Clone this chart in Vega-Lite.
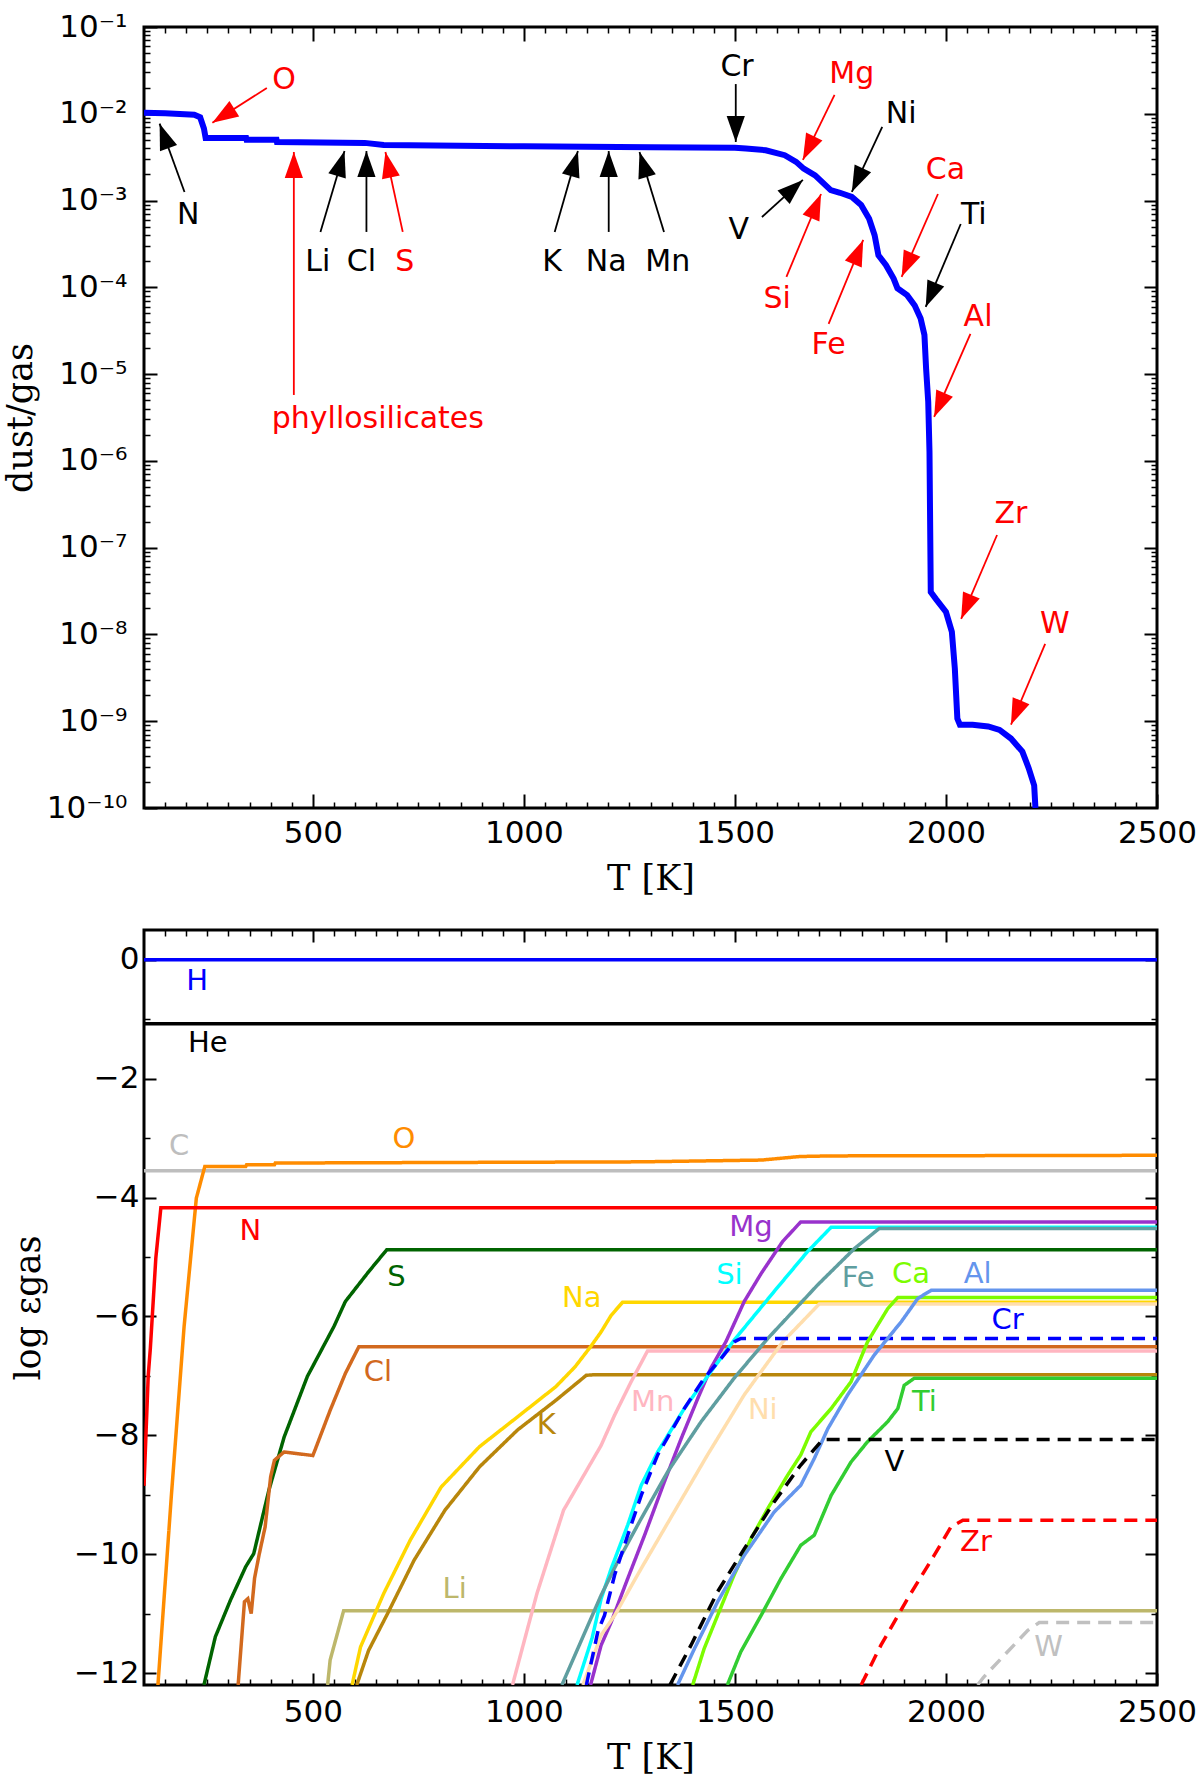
{
  "$schema": "https://vega.github.io/schema/vega-lite/v6.json",
  "background": "white",
  "padding": {"left": 1, "top": 9, "right": 0, "bottom": 0},
  "config": {
    "font": "DejaVu Sans",
    "view": {"stroke": "black", "strokeWidth": 3},
    "axis": {
      "domain": false,
      "grid": false,
      "tickColor": "black",
      "labelColor": "black",
      "labelFont": "DejaVu Sans",
      "labelFontSize": 31,
      "labelOverlap": false,
      "titleFont": "DejaVu Serif",
      "titleFontSize": 35,
      "titleFontWeight": "normal",
      "titleColor": "black"
    }
  },
  "spacing": 122,
  "bounds": "flush",
  "resolve": {"scale": {"color": "independent", "x": "independent", "y": "independent"}},
  "datasets": {
    "dust": [
      {"T": 100, "v": 1.030e-2}, {"T": 150, "v": 1.012e-2}, {"T": 219, "v": 9.77e-3},
      {"T": 233, "v": 9.12e-3}, {"T": 242, "v": 6.76e-3}, {"T": 246, "v": 5.25e-3},
      {"T": 342, "v": 5.25e-3}, {"T": 343, "v": 5.01e-3}, {"T": 414, "v": 5.01e-3},
      {"T": 415, "v": 4.73e-3}, {"T": 623, "v": 4.62e-3}, {"T": 668, "v": 4.37e-3},
      {"T": 1000, "v": 4.22e-3}, {"T": 1300, "v": 4.12e-3}, {"T": 1500, "v": 4.07e-3},
      {"T": 1526, "v": 3.98e-3}, {"T": 1573, "v": 3.80e-3}, {"T": 1618, "v": 3.33e-3},
      {"T": 1645, "v": 2.79e-3}, {"T": 1663, "v": 2.33e-3}, {"T": 1690, "v": 1.95e-3},
      {"T": 1727, "v": 1.32e-3}, {"T": 1749, "v": 1.23e-3}, {"T": 1777, "v": 1.10e-3},
      {"T": 1799, "v": 8.91e-4}, {"T": 1818, "v": 6.17e-4}, {"T": 1831, "v": 3.98e-4},
      {"T": 1840, "v": 2.34e-4}, {"T": 1858, "v": 1.80e-4}, {"T": 1876, "v": 1.26e-4},
      {"T": 1885, "v": 9.77e-5}, {"T": 1908, "v": 8.13e-5}, {"T": 1926, "v": 6.17e-5},
      {"T": 1940, "v": 4.37e-5}, {"T": 1949, "v": 2.82e-5}, {"T": 1953, "v": 1.15e-5},
      {"T": 1958, "v": 4.79e-6}, {"T": 1961, "v": 1.26e-6}, {"T": 1964, "v": 3.09e-8},
      {"T": 1976, "v": 2.57e-8}, {"T": 2000, "v": 1.82e-8}, {"T": 2014, "v": 1.07e-8},
      {"T": 2021, "v": 4.07e-9}, {"T": 2027, "v": 1.07e-9}, {"T": 2033, "v": 9.12e-10},
      {"T": 2063, "v": 9.12e-10}, {"T": 2100, "v": 8.71e-10}, {"T": 2127, "v": 7.94e-10},
      {"T": 2154, "v": 6.31e-10}, {"T": 2181, "v": 4.47e-10}, {"T": 2196, "v": 2.88e-10},
      {"T": 2209, "v": 1.82e-10}, {"T": 2212, "v": 1.0e-10}
    ],
    "arrows": [
      {"el": "N", "kind": "other", "tT": 196, "tv": 1.256e-3, "hT": 137, "hv": 7.69e-3},
      {"el": "O", "kind": "main", "tT": 391, "tv": 1.98e-2, "hT": 262, "hv": 7.89e-3},
      {"el": "phyllosilicates", "kind": "main", "tT": 455, "tv": 5.75e-6, "hT": 455, "hv": 3.63e-3},
      {"el": "Li", "kind": "other", "tT": 518, "tv": 4.35e-4, "hT": 575, "hv": 3.72e-3},
      {"el": "Cl", "kind": "other", "tT": 627, "tv": 4.35e-4, "hT": 627, "hv": 3.72e-3},
      {"el": "S", "kind": "main", "tT": 713, "tv": 4.35e-4, "hT": 672, "hv": 3.63e-3},
      {"el": "K", "kind": "other", "tT": 1073, "tv": 4.35e-4, "hT": 1128, "hv": 3.72e-3},
      {"el": "Na", "kind": "other", "tT": 1201, "tv": 4.35e-4, "hT": 1201, "hv": 3.72e-3},
      {"el": "Mn", "kind": "other", "tT": 1332, "tv": 4.35e-4, "hT": 1274, "hv": 3.63e-3},
      {"el": "Cr", "kind": "other", "tT": 1502, "tv": 2.20e-2, "hT": 1502, "hv": 4.73e-3},
      {"el": "Mg", "kind": "main", "tT": 1736, "tv": 1.65e-2, "hT": 1661, "hv": 2.94e-3},
      {"el": "Ni", "kind": "other", "tT": 1849, "tv": 7.05e-3, "hT": 1777, "hv": 1.256e-3},
      {"el": "V", "kind": "other", "tT": 1564, "tv": 6.47e-4, "hT": 1661, "hv": 1.73e-3},
      {"el": "Si", "kind": "main", "tT": 1622, "tv": 1.32e-4, "hT": 1704, "hv": 1.19e-3},
      {"el": "Fe", "kind": "main", "tT": 1722, "tv": 3.80e-5, "hT": 1804, "hv": 3.52e-4},
      {"el": "Ca", "kind": "main", "tT": 1981, "tv": 1.19e-3, "hT": 1895, "hv": 1.32e-4},
      {"el": "Ti", "kind": "other", "tT": 2035, "tv": 5.37e-4, "hT": 1952, "hv": 5.94e-5},
      {"el": "Al", "kind": "main", "tT": 2058, "tv": 2.90e-5, "hT": 1972, "hv": 3.21e-6},
      {"el": "Zr", "kind": "main", "tT": 2121, "tv": 1.40e-7, "hT": 2036, "hv": 1.51e-8},
      {"el": "W", "kind": "main", "tT": 2235, "tv": 7.80e-9, "hT": 2154, "hv": 9.12e-10}
    ],
    "tags": [
      {"label": "N", "kind": "other", "T": 205, "v": 6.82e-4},
      {"label": "O", "kind": "main", "T": 432, "v": 2.45e-2},
      {"label": "phyllosilicates", "kind": "main", "T": 654, "v": 3.05e-6},
      {"label": "Li", "kind": "other", "T": 512, "v": 1.96e-4},
      {"label": "Cl", "kind": "other", "T": 615, "v": 1.96e-4},
      {"label": "S", "kind": "main", "T": 718, "v": 1.96e-4},
      {"label": "K", "kind": "other", "T": 1067, "v": 1.96e-4},
      {"label": "Na", "kind": "other", "T": 1195, "v": 1.96e-4},
      {"label": "Mn", "kind": "other", "T": 1341, "v": 1.96e-4},
      {"label": "Cr", "kind": "other", "T": 1505, "v": 3.46e-2},
      {"label": "Mg", "kind": "main", "T": 1777, "v": 2.88e-2},
      {"label": "Ni", "kind": "other", "T": 1894, "v": 9.95e-3},
      {"label": "V", "kind": "other", "T": 1509, "v": 4.58e-4},
      {"label": "Si", "kind": "main", "T": 1600, "v": 7.35e-5},
      {"label": "Fe", "kind": "main", "T": 1722, "v": 2.17e-5},
      {"label": "Ca", "kind": "main", "T": 1999, "v": 2.25e-3},
      {"label": "Ti", "kind": "other", "T": 2066, "v": 6.82e-4},
      {"label": "Al", "kind": "main", "T": 2076, "v": 4.56e-5},
      {"label": "Zr", "kind": "main", "T": 2154, "v": 2.45e-7},
      {"label": "W", "kind": "main", "T": 2258, "v": 1.32e-8}
    ],
    "gas": [
      {"el": "H", "T": 100, "v": 0}, {"el": "H", "T": 2500, "v": 0},
      {"el": "He", "T": 100, "v": -1.075}, {"el": "He", "T": 2500, "v": -1.075},
      {"el": "C", "T": 100, "v": -3.55}, {"el": "C", "T": 2500, "v": -3.55},
      {"el": "O", "T": 133, "v": -12.2}, {"el": "O", "T": 165, "v": -9.0}, {"el": "O", "T": 195, "v": -6.17},
      {"el": "O", "T": 224, "v": -4.01}, {"el": "O", "T": 244, "v": -3.48}, {"el": "O", "T": 341, "v": -3.48},
      {"el": "O", "T": 343, "v": -3.45}, {"el": "O", "T": 409, "v": -3.45}, {"el": "O", "T": 411, "v": -3.42},
      {"el": "O", "T": 1273, "v": -3.40}, {"el": "O", "T": 1563, "v": -3.37}, {"el": "O", "T": 1654, "v": -3.31},
      {"el": "O", "T": 1727, "v": -3.30}, {"el": "O", "T": 2500, "v": -3.29},
      {"el": "N", "T": 100, "v": -8.85}, {"el": "N", "T": 110, "v": -7.0}, {"el": "N", "T": 115, "v": -6.54},
      {"el": "N", "T": 128, "v": -5.02}, {"el": "N", "T": 140, "v": -4.17}, {"el": "N", "T": 2500, "v": -4.17},
      {"el": "S", "T": 242, "v": -12.2}, {"el": "S", "T": 269, "v": -11.39}, {"el": "S", "T": 305, "v": -10.77},
      {"el": "S", "T": 341, "v": -10.21}, {"el": "S", "T": 360, "v": -9.99}, {"el": "S", "T": 396, "v": -8.92},
      {"el": "S", "T": 432, "v": -8.03}, {"el": "S", "T": 487, "v": -7.01}, {"el": "S", "T": 550, "v": -6.17},
      {"el": "S", "T": 577, "v": -5.75}, {"el": "S", "T": 632, "v": -5.25}, {"el": "S", "T": 675, "v": -4.88},
      {"el": "S", "T": 2500, "v": -4.88},
      {"el": "Cl", "T": 323, "v": -12.2}, {"el": "Cl", "T": 338, "v": -10.8}, {"el": "Cl", "T": 346, "v": -10.75},
      {"el": "Cl", "T": 354, "v": -11.0}, {"el": "Cl", "T": 362, "v": -10.4}, {"el": "Cl", "T": 373, "v": -10.0},
      {"el": "Cl", "T": 387, "v": -9.54}, {"el": "Cl", "T": 400, "v": -8.70}, {"el": "Cl", "T": 409, "v": -8.42},
      {"el": "Cl", "T": 432, "v": -8.28}, {"el": "Cl", "T": 500, "v": -8.34}, {"el": "Cl", "T": 505, "v": -8.25},
      {"el": "Cl", "T": 541, "v": -7.58}, {"el": "Cl", "T": 577, "v": -6.96}, {"el": "Cl", "T": 609, "v": -6.51},
      {"el": "Cl", "T": 2500, "v": -6.51},
      {"el": "Li", "T": 535, "v": -12.2}, {"el": "Li", "T": 541, "v": -11.78}, {"el": "Li", "T": 573, "v": -10.95},
      {"el": "Li", "T": 2500, "v": -10.95},
      {"el": "Na", "T": 593, "v": -12.2}, {"el": "Na", "T": 613, "v": -11.56}, {"el": "Na", "T": 668, "v": -10.66},
      {"el": "Na", "T": 731, "v": -9.76}, {"el": "Na", "T": 804, "v": -8.87}, {"el": "Na", "T": 895, "v": -8.19},
      {"el": "Na", "T": 985, "v": -7.69}, {"el": "Na", "T": 1076, "v": -7.18}, {"el": "Na", "T": 1121, "v": -6.85},
      {"el": "Na", "T": 1158, "v": -6.51}, {"el": "Na", "T": 1183, "v": -6.26}, {"el": "Na", "T": 1207, "v": -5.98},
      {"el": "Na", "T": 1234, "v": -5.76}, {"el": "Na", "T": 2500, "v": -5.76},
      {"el": "K", "T": 604, "v": -12.2}, {"el": "K", "T": 632, "v": -11.62}, {"el": "K", "T": 677, "v": -11.0},
      {"el": "K", "T": 740, "v": -10.1}, {"el": "K", "T": 813, "v": -9.26}, {"el": "K", "T": 895, "v": -8.53},
      {"el": "K", "T": 985, "v": -7.91}, {"el": "K", "T": 1076, "v": -7.41}, {"el": "K", "T": 1148, "v": -6.99},
      {"el": "K", "T": 1170, "v": -6.98}, {"el": "K", "T": 2500, "v": -6.98},
      {"el": "Mn", "T": 973, "v": -12.2}, {"el": "Mn", "T": 1031, "v": -10.66}, {"el": "Mn", "T": 1094, "v": -9.26},
      {"el": "Mn", "T": 1183, "v": -8.17}, {"el": "Mn", "T": 1215, "v": -7.66}, {"el": "Mn", "T": 1254, "v": -7.10},
      {"el": "Mn", "T": 1293, "v": -6.58}, {"el": "Mn", "T": 2500, "v": -6.58},
      {"el": "Mg", "T": 1158, "v": -12.2}, {"el": "Mg", "T": 1183, "v": -11.53}, {"el": "Mg", "T": 1207, "v": -11.14},
      {"el": "Mg", "T": 1246, "v": -10.41}, {"el": "Mg", "T": 1286, "v": -9.68}, {"el": "Mg", "T": 1333, "v": -8.78},
      {"el": "Mg", "T": 1373, "v": -8.05}, {"el": "Mg", "T": 1412, "v": -7.38}, {"el": "Mg", "T": 1443, "v": -6.87},
      {"el": "Mg", "T": 1479, "v": -6.42}, {"el": "Mg", "T": 1522, "v": -5.75}, {"el": "Mg", "T": 1562, "v": -5.28},
      {"el": "Mg", "T": 1613, "v": -4.74}, {"el": "Mg", "T": 1656, "v": -4.41}, {"el": "Mg", "T": 2500, "v": -4.41},
      {"el": "Si", "T": 1126, "v": -12.2}, {"el": "Si", "T": 1162, "v": -11.4}, {"el": "Si", "T": 1183, "v": -10.75},
      {"el": "Si", "T": 1207, "v": -10.24}, {"el": "Si", "T": 1246, "v": -9.51}, {"el": "Si", "T": 1278, "v": -8.84},
      {"el": "Si", "T": 1317, "v": -8.28}, {"el": "Si", "T": 1380, "v": -7.55}, {"el": "Si", "T": 1443, "v": -6.93},
      {"el": "Si", "T": 1498, "v": -6.40}, {"el": "Si", "T": 1593, "v": -5.58}, {"el": "Si", "T": 1672, "v": -4.91},
      {"el": "Si", "T": 1728, "v": -4.50}, {"el": "Si", "T": 2500, "v": -4.50},
      {"el": "Fe", "T": 1090, "v": -12.2}, {"el": "Fe", "T": 1183, "v": -10.69}, {"el": "Fe", "T": 1222, "v": -10.13},
      {"el": "Fe", "T": 1278, "v": -9.40}, {"el": "Fe", "T": 1341, "v": -8.61}, {"el": "Fe", "T": 1420, "v": -7.77},
      {"el": "Fe", "T": 1498, "v": -7.04}, {"el": "Fe", "T": 1578, "v": -6.37}, {"el": "Fe", "T": 1696, "v": -5.47},
      {"el": "Fe", "T": 1783, "v": -4.86}, {"el": "Fe", "T": 1842, "v": -4.52}, {"el": "Fe", "T": 2500, "v": -4.52},
      {"el": "Ni", "T": 1140, "v": -12.2}, {"el": "Ni", "T": 1183, "v": -11.36}, {"el": "Ni", "T": 1215, "v": -11.03},
      {"el": "Ni", "T": 1278, "v": -10.24}, {"el": "Ni", "T": 1356, "v": -9.29}, {"el": "Ni", "T": 1435, "v": -8.33},
      {"el": "Ni", "T": 1522, "v": -7.32}, {"el": "Ni", "T": 1613, "v": -6.43}, {"el": "Ni", "T": 1700, "v": -5.79},
      {"el": "Ni", "T": 2500, "v": -5.79},
      {"el": "Cr", "T": 1148, "v": -12.2}, {"el": "Cr", "T": 1176, "v": -11.28}, {"el": "Cr", "T": 1191, "v": -11.03},
      {"el": "Cr", "T": 1215, "v": -10.35}, {"el": "Cr", "T": 1246, "v": -9.68}, {"el": "Cr", "T": 1278, "v": -9.01},
      {"el": "Cr", "T": 1317, "v": -8.33}, {"el": "Cr", "T": 1380, "v": -7.55}, {"el": "Cr", "T": 1427, "v": -7.04},
      {"el": "Cr", "T": 1467, "v": -6.71}, {"el": "Cr", "T": 1498, "v": -6.43}, {"el": "Cr", "T": 1514, "v": -6.37},
      {"el": "Cr", "T": 2500, "v": -6.37},
      {"el": "Ca", "T": 1400, "v": -12.2}, {"el": "Ca", "T": 1427, "v": -11.59}, {"el": "Ca", "T": 1459, "v": -11.03},
      {"el": "Ca", "T": 1498, "v": -10.35}, {"el": "Ca", "T": 1538, "v": -9.74}, {"el": "Ca", "T": 1578, "v": -9.23},
      {"el": "Ca", "T": 1625, "v": -8.67}, {"el": "Ca", "T": 1656, "v": -8.33}, {"el": "Ca", "T": 1680, "v": -7.94},
      {"el": "Ca", "T": 1728, "v": -7.55}, {"el": "Ca", "T": 1775, "v": -7.10}, {"el": "Ca", "T": 1814, "v": -6.43},
      {"el": "Ca", "T": 1862, "v": -5.87}, {"el": "Ca", "T": 1886, "v": -5.68}, {"el": "Ca", "T": 2500, "v": -5.68},
      {"el": "Al", "T": 1364, "v": -12.2}, {"el": "Al", "T": 1404, "v": -11.59}, {"el": "Al", "T": 1459, "v": -10.80},
      {"el": "Al", "T": 1522, "v": -10.02}, {"el": "Al", "T": 1593, "v": -9.29}, {"el": "Al", "T": 1656, "v": -8.84},
      {"el": "Al", "T": 1688, "v": -8.39}, {"el": "Al", "T": 1720, "v": -7.89}, {"el": "Al", "T": 1767, "v": -7.32},
      {"el": "Al", "T": 1830, "v": -6.65}, {"el": "Al", "T": 1894, "v": -6.09}, {"el": "Al", "T": 1933, "v": -5.70},
      {"el": "Al", "T": 1965, "v": -5.56}, {"el": "Al", "T": 2500, "v": -5.56},
      {"el": "Ti", "T": 1482, "v": -12.2}, {"el": "Ti", "T": 1514, "v": -11.64}, {"el": "Ti", "T": 1562, "v": -11.03},
      {"el": "Ti", "T": 1609, "v": -10.41}, {"el": "Ti", "T": 1656, "v": -9.85}, {"el": "Ti", "T": 1688, "v": -9.68},
      {"el": "Ti", "T": 1728, "v": -9.01}, {"el": "Ti", "T": 1775, "v": -8.45}, {"el": "Ti", "T": 1814, "v": -8.11},
      {"el": "Ti", "T": 1862, "v": -7.77}, {"el": "Ti", "T": 1886, "v": -7.55}, {"el": "Ti", "T": 1901, "v": -7.16},
      {"el": "Ti", "T": 1925, "v": -7.04}, {"el": "Ti", "T": 2500, "v": -7.04},
      {"el": "V", "T": 1346, "v": -12.2}, {"el": "V", "T": 1396, "v": -11.53}, {"el": "V", "T": 1459, "v": -10.63},
      {"el": "V", "T": 1522, "v": -9.91}, {"el": "V", "T": 1593, "v": -9.12}, {"el": "V", "T": 1656, "v": -8.50},
      {"el": "V", "T": 1708, "v": -8.07}, {"el": "V", "T": 2500, "v": -8.07},
      {"el": "Zr", "T": 1799, "v": -12.2}, {"el": "Zr", "T": 1846, "v": -11.53}, {"el": "Zr", "T": 1909, "v": -10.75},
      {"el": "Zr", "T": 1972, "v": -10.02}, {"el": "Zr", "T": 2012, "v": -9.54}, {"el": "Zr", "T": 2040, "v": -9.43},
      {"el": "Zr", "T": 2500, "v": -9.43},
      {"el": "W", "T": 2075, "v": -12.2}, {"el": "W", "T": 2089, "v": -12.07}, {"el": "W", "T": 2194, "v": -11.28},
      {"el": "W", "T": 2221, "v": -11.15}, {"el": "W", "T": 2500, "v": -11.15}
    ],
    "gastags": [
      {"el": "H", "T": 226, "v": -0.365}, {"el": "He", "T": 251, "v": -1.40}, {"el": "C", "T": 183, "v": -3.14},
      {"el": "O", "T": 716, "v": -3.01}, {"el": "N", "T": 352, "v": -4.57}, {"el": "S", "T": 698, "v": -5.33},
      {"el": "Cl", "T": 654, "v": -6.93}, {"el": "Na", "T": 1137, "v": -5.69}, {"el": "K", "T": 1053, "v": -7.83},
      {"el": "Li", "T": 836, "v": -10.58}, {"el": "Mn", "T": 1305, "v": -7.44}, {"el": "Mg", "T": 1538, "v": -4.49},
      {"el": "Si", "T": 1487, "v": -5.30}, {"el": "Fe", "T": 1792, "v": -5.36}, {"el": "Ni", "T": 1566, "v": -7.58},
      {"el": "Cr", "T": 2146, "v": -6.06}, {"el": "Ca", "T": 1917, "v": -5.28}, {"el": "Al", "T": 2075, "v": -5.28},
      {"el": "Ti", "T": 1949, "v": -7.44}, {"el": "V", "T": 1878, "v": -8.45}, {"el": "Zr", "T": 2071, "v": -9.79},
      {"el": "W", "T": 2243, "v": -11.56}
    ]
  },
  "vconcat": [
    {
      "width": 1013,
      "height": 781,
      "resolve": {"axis": {"x": "independent", "y": "independent"}},
      "layer": [
        {
          "data": {"name": "dust"},
          "mark": {"type": "line", "color": "#0000ff", "strokeWidth": 6, "clip": true},
          "encoding": {
            "x": {"field": "T", "type": "quantitative", "scale": {"domain": [100, 2500], "nice": false, "zero": false},
              "axis": {"orient": "bottom", "values": [500, 1000, 1500, 2000, 2500], "format": "d", "tickSize": -14, "tickWidth": 2,
                "labelPadding": 24, "labelFlush": false, "title": "T [K]", "titlePadding": 13}},
            "y": {"field": "v", "type": "quantitative", "scale": {"type": "log", "domain": [1e-10, 0.1], "nice": false},
              "axis": {"orient": "left", "values": [1e-10, 1e-9, 1e-8, 1e-7, 1e-6, 1e-5, 1e-4, 1e-3, 1e-2, 1e-1],
                "labelExpr": "'10' + ['⁻¹','⁻²','⁻³','⁻⁴','⁻⁵','⁻⁶','⁻⁷','⁻⁸','⁻⁹','⁻¹⁰'][round(-log(datum.value) / LN10) - 1]",
                "tickSize": -13, "tickWidth": 2, "labelPadding": 30, "title": "dust/gas", "titlePadding": 8}}
          }
        },
        {
          "data": {"name": "dust"},
          "mark": {"type": "point", "opacity": 0},
          "encoding": {
            "x": {"field": "T", "type": "quantitative", "scale": {"domain": [100, 2500], "nice": false, "zero": false},
              "axis": {"orient": "bottom", "values": [150, 200, 250, 300, 350, 400, 450, 550, 600, 650, 700, 750, 800, 850, 900, 950, 1050, 1100, 1150, 1200, 1250, 1300, 1350, 1400, 1450, 1550, 1600, 1650, 1700, 1750, 1800, 1850, 1900, 1950, 2050, 2100, 2150, 2200, 2250, 2300, 2350, 2400, 2450],
                "labels": false, "tickSize": -6, "tickWidth": 1.5, "title": null}},
            "y": {"field": "v", "type": "quantitative", "scale": {"type": "log", "domain": [1e-10, 0.1], "nice": false},
              "axis": {"orient": "left", "values": [2e-10, 3e-10, 4e-10, 5e-10, 6e-10, 7e-10, 8e-10, 9e-10, 2e-9, 3e-9, 4e-9, 5e-9, 6e-9, 7e-9, 8e-9, 9e-9, 2e-8, 3e-8, 4e-8, 5e-8, 6e-8, 7e-8, 8e-8, 9e-8, 2e-7, 3e-7, 4e-7, 5e-7, 6e-7, 7e-7, 8e-7, 9e-7, 2e-6, 3e-6, 4e-6, 5e-6, 6e-6, 7e-6, 8e-6, 9e-6, 2e-5, 3e-5, 4e-5, 5e-5, 6e-5, 7e-5, 8e-5, 9e-5, 2e-4, 3e-4, 4e-4, 5e-4, 6e-4, 7e-4, 8e-4, 9e-4, 2e-3, 3e-3, 4e-3, 5e-3, 6e-3, 7e-3, 8e-3, 9e-3, 2e-2, 3e-2, 4e-2, 5e-2, 6e-2, 7e-2, 8e-2, 9e-2],
                "labels": false, "tickSize": -6, "tickWidth": 1.5, "title": null}}
          }
        },
        {
          "data": {"name": "dust"},
          "mark": {"type": "point", "opacity": 0},
          "encoding": {
            "x": {"field": "T", "type": "quantitative", "scale": {"domain": [100, 2500], "nice": false, "zero": false},
              "axis": {"orient": "top", "values": [500, 1000, 1500, 2000], "labels": false, "tickSize": -14, "tickWidth": 2, "title": null}},
            "y": {"field": "v", "type": "quantitative", "scale": {"type": "log", "domain": [1e-10, 0.1], "nice": false},
              "axis": {"orient": "right", "values": [1e-9, 1e-8, 1e-7, 1e-6, 1e-5, 1e-4, 1e-3, 1e-2],
                "labels": false, "tickSize": -13, "tickWidth": 2, "title": null}}
          }
        },
        {
          "data": {"name": "dust"},
          "mark": {"type": "point", "opacity": 0},
          "encoding": {
            "x": {"field": "T", "type": "quantitative", "scale": {"domain": [100, 2500], "nice": false, "zero": false},
              "axis": {"orient": "top", "values": [150, 200, 250, 300, 350, 400, 450, 550, 600, 650, 700, 750, 800, 850, 900, 950, 1050, 1100, 1150, 1200, 1250, 1300, 1350, 1400, 1450, 1550, 1600, 1650, 1700, 1750, 1800, 1850, 1900, 1950, 2050, 2100, 2150, 2200, 2250, 2300, 2350, 2400, 2450],
                "labels": false, "tickSize": -6, "tickWidth": 1.5, "title": null}},
            "y": {"field": "v", "type": "quantitative", "scale": {"type": "log", "domain": [1e-10, 0.1], "nice": false},
              "axis": {"orient": "right", "values": [2e-10, 3e-10, 4e-10, 5e-10, 6e-10, 7e-10, 8e-10, 9e-10, 2e-9, 3e-9, 4e-9, 5e-9, 6e-9, 7e-9, 8e-9, 9e-9, 2e-8, 3e-8, 4e-8, 5e-8, 6e-8, 7e-8, 8e-8, 9e-8, 2e-7, 3e-7, 4e-7, 5e-7, 6e-7, 7e-7, 8e-7, 9e-7, 2e-6, 3e-6, 4e-6, 5e-6, 6e-6, 7e-6, 8e-6, 9e-6, 2e-5, 3e-5, 4e-5, 5e-5, 6e-5, 7e-5, 8e-5, 9e-5, 2e-4, 3e-4, 4e-4, 5e-4, 6e-4, 7e-4, 8e-4, 9e-4, 2e-3, 3e-3, 4e-3, 5e-3, 6e-3, 7e-3, 8e-3, 9e-3, 2e-2, 3e-2, 4e-2, 5e-2, 6e-2, 7e-2, 8e-2, 9e-2],
                "labels": false, "tickSize": -6, "tickWidth": 1.5, "title": null}}
          }
        },
        {
          "data": {"name": "arrows"},
          "mark": {"type": "rule", "strokeWidth": 1.8},
          "encoding": {
            "x": {"field": "tT", "type": "quantitative", "scale": {"domain": [100, 2500], "nice": false, "zero": false}, "axis": null},
            "y": {"field": "tv", "type": "quantitative", "scale": {"type": "log", "domain": [1e-10, 0.1], "nice": false}, "axis": null},
            "x2": {"field": "hT"},
            "y2": {"field": "hv"},
            "color": {"field": "kind", "type": "nominal", "scale": {"domain": ["main", "other"], "range": ["#ff0000", "#000000"]}, "legend": null}
          }
        },
        {
          "data": {"name": "arrows"},
          "transform": [
            {"calculate": "atan2((datum.hT - datum.tT) * 0.42208, (log(datum.hv) - log(datum.tv)) / LN10 * 86.78) * 180 / PI", "as": "ang"}
          ],
          "mark": {"type": "point", "shape": "M0,0L-0.7,2L0.7,2Z", "filled": true, "opacity": 1, "size": 676, "strokeWidth": 0},
          "encoding": {
            "x": {"field": "hT", "type": "quantitative", "scale": {"domain": [100, 2500], "nice": false, "zero": false}, "axis": null},
            "y": {"field": "hv", "type": "quantitative", "scale": {"type": "log", "domain": [1e-10, 0.1], "nice": false}, "axis": null},
            "angle": {"field": "ang", "type": "quantitative", "scale": null},
            "color": {"field": "kind", "type": "nominal", "scale": {"domain": ["main", "other"], "range": ["#ff0000", "#000000"]}, "legend": null}
          }
        },
        {
          "data": {"name": "tags"},
          "mark": {"type": "text", "font": "DejaVu Sans", "fontSize": 30, "align": "center", "baseline": "middle"},
          "encoding": {
            "x": {"field": "T", "type": "quantitative", "scale": {"domain": [100, 2500], "nice": false, "zero": false}, "axis": null},
            "y": {"field": "v", "type": "quantitative", "scale": {"type": "log", "domain": [1e-10, 0.1], "nice": false}, "axis": null},
            "text": {"field": "label"},
            "color": {"field": "kind", "type": "nominal", "scale": {"domain": ["main", "other"], "range": ["#ff0000", "#000000"]}, "legend": null}
          }
        }
      ]
    },
    {
      "width": 1013,
      "height": 755,
      "resolve": {"axis": {"x": "independent", "y": "independent"}},
      "layer": [
        {
          "data": {"name": "gas"},
          "mark": {"type": "line", "strokeWidth": 3.5, "clip": true},
          "encoding": {
            "x": {"field": "T", "type": "quantitative", "scale": {"domain": [100, 2500], "nice": false, "zero": false},
              "axis": {"orient": "bottom", "values": [500, 1000, 1500, 2000, 2500], "format": "d", "tickSize": -12, "tickWidth": 2,
                "labelPadding": 24, "labelFlush": false, "title": "T [K]", "titlePadding": 13}},
            "y": {"field": "v", "type": "quantitative", "scale": {"domain": [-12.2, 0.5], "nice": false, "zero": false},
              "axis": {"orient": "left", "values": [0, -2, -4, -6, -8, -10, -12], "format": "d",
                "tickSize": -12, "tickWidth": 2, "labelPadding": 17, "title": "log εgas", "titlePadding": 27}},
            "color": {"field": "el", "type": "nominal", "legend": null,
              "scale": {"domain": ["H", "He", "C", "O", "N", "S", "Cl", "Li", "Na", "K", "Mn", "Mg", "Si", "Fe", "Ni", "Cr", "Ca", "Al", "Ti", "V", "Zr", "W"],
                "range": ["#0000ff", "#000000", "#bebebe", "#ff8c00", "#ff0000", "#006400", "#d2691e", "#bdb76b", "#ffd700", "#b8860b", "#ffb6c1", "#9932cc", "#00ffff", "#5f9ea0", "#ffdead", "#0000ff", "#7cfc00", "#6495ed", "#32cd32", "#000000", "#ff0000", "#c0c0c0"]}},
            "strokeDash": {"field": "el", "type": "nominal", "legend": null,
              "scale": {"domain": ["H", "He", "C", "O", "N", "S", "Cl", "Li", "Na", "K", "Mn", "Mg", "Si", "Fe", "Ni", "Cr", "Ca", "Al", "Ti", "V", "Zr", "W"],
                "range": [[1, 0], [1, 0], [1, 0], [1, 0], [1, 0], [1, 0], [1, 0], [1, 0], [1, 0], [1, 0], [1, 0], [1, 0], [1, 0], [1, 0], [1, 0], [13, 8], [1, 0], [1, 0], [1, 0], [13, 8], [13, 8], [13, 8]]}}
          }
        },
        {
          "data": {"name": "gas"},
          "mark": {"type": "point", "opacity": 0},
          "encoding": {
            "x": {"field": "T", "type": "quantitative", "scale": {"domain": [100, 2500], "nice": false, "zero": false},
              "axis": {"orient": "bottom", "values": [150, 200, 250, 300, 350, 400, 450, 550, 600, 650, 700, 750, 800, 850, 900, 950, 1050, 1100, 1150, 1200, 1250, 1300, 1350, 1400, 1450, 1550, 1600, 1650, 1700, 1750, 1800, 1850, 1900, 1950, 2050, 2100, 2150, 2200, 2250, 2300, 2350, 2400, 2450],
                "labels": false, "tickSize": -6, "tickWidth": 1.5, "title": null}},
            "y": {"field": "v", "type": "quantitative", "scale": {"domain": [-12.2, 0.5], "nice": false, "zero": false},
              "axis": {"orient": "left", "values": [-11, -9, -7, -5, -3, -1], "labels": false, "tickSize": -6, "tickWidth": 1.5, "title": null}}
          }
        },
        {
          "data": {"name": "gas"},
          "mark": {"type": "point", "opacity": 0},
          "encoding": {
            "x": {"field": "T", "type": "quantitative", "scale": {"domain": [100, 2500], "nice": false, "zero": false},
              "axis": {"orient": "top", "values": [500, 1000, 1500, 2000], "labels": false, "tickSize": -12, "tickWidth": 2, "title": null}},
            "y": {"field": "v", "type": "quantitative", "scale": {"domain": [-12.2, 0.5], "nice": false, "zero": false},
              "axis": {"orient": "right", "values": [0, -2, -4, -6, -8, -10, -12], "labels": false, "tickSize": -12, "tickWidth": 2, "title": null}}
          }
        },
        {
          "data": {"name": "gas"},
          "mark": {"type": "point", "opacity": 0},
          "encoding": {
            "x": {"field": "T", "type": "quantitative", "scale": {"domain": [100, 2500], "nice": false, "zero": false},
              "axis": {"orient": "top", "values": [150, 200, 250, 300, 350, 400, 450, 550, 600, 650, 700, 750, 800, 850, 900, 950, 1050, 1100, 1150, 1200, 1250, 1300, 1350, 1400, 1450, 1550, 1600, 1650, 1700, 1750, 1800, 1850, 1900, 1950, 2050, 2100, 2150, 2200, 2250, 2300, 2350, 2400, 2450],
                "labels": false, "tickSize": -6, "tickWidth": 1.5, "title": null}},
            "y": {"field": "v", "type": "quantitative", "scale": {"domain": [-12.2, 0.5], "nice": false, "zero": false},
              "axis": {"orient": "right", "values": [-11, -9, -7, -5, -3, -1], "labels": false, "tickSize": -6, "tickWidth": 1.5, "title": null}}
          }
        },
        {
          "data": {"name": "gastags"},
          "mark": {"type": "text", "font": "DejaVu Sans", "fontSize": 29, "align": "center", "baseline": "middle"},
          "encoding": {
            "x": {"field": "T", "type": "quantitative", "scale": {"domain": [100, 2500], "nice": false, "zero": false}, "axis": null},
            "y": {"field": "v", "type": "quantitative", "scale": {"domain": [-12.2, 0.5], "nice": false, "zero": false}, "axis": null},
            "text": {"field": "el"},
            "color": {"field": "el", "type": "nominal", "legend": null,
              "scale": {"domain": ["H", "He", "C", "O", "N", "S", "Cl", "Li", "Na", "K", "Mn", "Mg", "Si", "Fe", "Ni", "Cr", "Ca", "Al", "Ti", "V", "Zr", "W"],
                "range": ["#0000ff", "#000000", "#bebebe", "#ff8c00", "#ff0000", "#006400", "#d2691e", "#bdb76b", "#ffd700", "#b8860b", "#ffb6c1", "#9932cc", "#00ffff", "#5f9ea0", "#ffdead", "#0000ff", "#7cfc00", "#6495ed", "#32cd32", "#000000", "#ff0000", "#c0c0c0"]}}
          }
        }
      ]
    }
  ]
}
